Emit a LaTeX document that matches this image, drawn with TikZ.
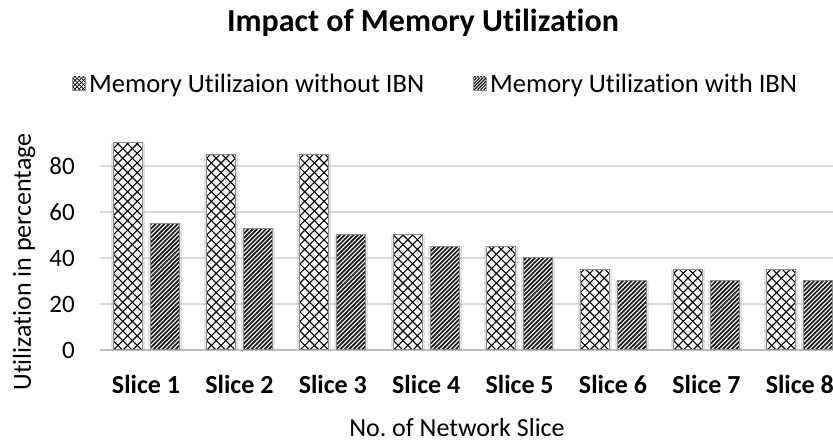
\documentclass[tikz,border=0pt]{standalone}
\usepackage{fontspec}
\setmainfont{Carlito}[Ligatures=NoCommon]
\frenchspacing
\begin{document}
\begin{tikzpicture}[x=1pt,y=-1pt,
  gridline/.style={draw=black!15, line width=1.2},
  baseline/.style={draw=black!25, line width=1.4},
  ticklbl/.style={anchor=base east, inner sep=0, font=\fontsize{25}{28}\selectfont},
  catlbl/.style={anchor=base, inner sep=0, font=\bfseries\fontsize{26}{28}\selectfont},
  axtitle/.style={inner sep=0, font=\fontsize{26}{28}\selectfont},
  legtext/.style={anchor=base west, inner sep=0, font=\fontsize{26.6}{28}\selectfont},
  charttitle/.style={anchor=base, inner sep=0, font=\bfseries\fontsize{32}{36}\selectfont},
  xhatch/.style={draw=black, line width=1.1},
  shatch/.style={draw=black!90, line width=1.7},
  barshade/.style={fill=black!30, opacity=0.35},
  baredge/.style={draw=black!45, line width=1}]
\useasboundingbox (0,0) rectangle (833,443);
\fill[white] (0,0) rectangle (833,443);

% horizontal grid
\foreach \v in {20,40,60,80} {
  \draw[gridline] (100,{350-2.3*\v}) -- (833,{350-2.3*\v});
}
\draw[baseline] (100,350) -- (833,350);

% tick labels
\foreach \v in {0,20,40,60,80} {
  \node[ticklbl] (tick\v) at (75,{359-2.3*\v}) {\v};
}

% bars: cross-hatched (without IBN) and striped (with IBN)
\foreach \k/\a/\b in {1/90/55,2/85/53,3/85/50,4/50/45,5/45/40,6/35/30,7/35/30,8/35/30} {
  \pgfmathsetmacro\cx{146+93.4*(\k-1)}
  \pgfmathsetmacro\xa{\cx-33}
  \pgfmathsetmacro\xb{\cx-4}
  \pgfmathsetmacro\xc{\cx+4}
  \pgfmathsetmacro\xd{\cx+33}
  \pgfmathsetmacro\ta{350-2.3*\a}
  \pgfmathsetmacro\tb{350-2.3*\b}
  % soft side shading
  \fill[barshade] (\xa-2.5,\ta) rectangle (\xb+2.5,350);
  \fill[barshade] (\xc-2.5,\tb) rectangle (\xd+2.5,350);
  % cross-hatched bar
  \begin{scope}
    \clip (\xa,\ta) rectangle (\xb,350);
    \fill[white] (\xa,\ta) rectangle (\xb,350);
    \foreach \d in {0,9.6,...,260} {
      \draw[xhatch] ({\xa-230+\d},350) -- ++(230,-230);
      \draw[xhatch] ({\xa+\d},350) -- ++(-230,-230);
    }
  \end{scope}
  \draw[baredge] (\xa,\ta) rectangle (\xb,350);
  % striped bar
  \begin{scope}
    \clip (\xc,\tb) rectangle (\xd,350);
    \fill[white] (\xc,\tb) rectangle (\xd,350);
    \foreach \d in {0,4.4,...,200} {
      \draw[shatch] ({\xc-160+\d},350) -- ++(160,-160);
    }
  \end{scope}
  \draw[baredge] (\xc,\tb) rectangle (\xd,350);
  % category label
  \node[catlbl] (cat\k) at (\cx,394) {Slice \k};
}

% axis titles
\node[axtitle, rotate=90] (ytitle) at (24,262) {Utilization in percentage};
\node[axtitle, anchor=base] (xtitle) at (457,437) {No. of Network Slice};

% chart title
\node[charttitle] (title) at (423,32) {Impact of Memory Utilization};

% legend
\begin{scope}
  \clip (72,77) rectangle (85,90);
  \fill[white] (72,77) rectangle (85,90);
  \foreach \d in {0,4.2,...,30} {
    \draw[black, line width=0.7] ({72-15+\d},90) -- ++(15,-15);
    \draw[black, line width=0.7] ({72+\d},90) -- ++(-15,-15);
  }
\end{scope}
\draw[black!45, line width=0.6] (72,77) rectangle (85,90);
\node[legtext] (leg1) at (89,93) {Memory Utilizaion without IBN};

\begin{scope}
  \clip (473,77) rectangle (486,90);
  \fill[white] (473,77) rectangle (486,90);
  \foreach \d in {0,3.2,...,30} {
    \draw[black!90, line width=1.2] ({473-15+\d},90) -- ++(15,-15);
  }
\end{scope}
\draw[black!45, line width=0.6] (473,77) rectangle (486,90);
\node[legtext] (leg2) at (490,93) {Memory Utilization with IBN};
\end{tikzpicture}
\end{document}
